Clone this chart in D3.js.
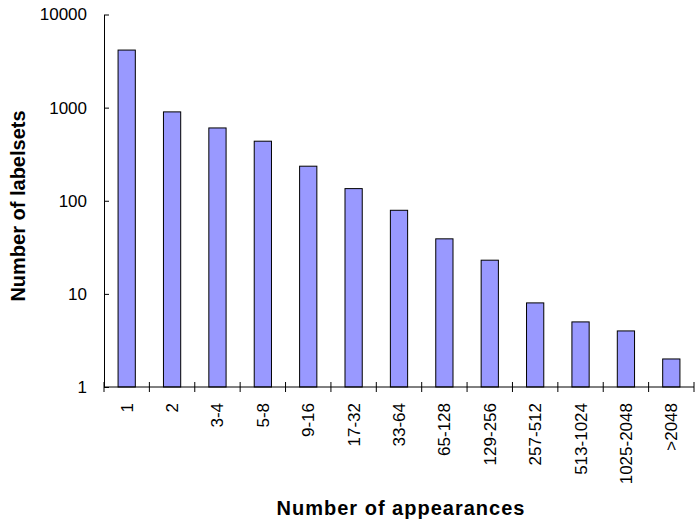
<!DOCTYPE html>
<html>
<head>
<meta charset="utf-8">
<script src="https://cdn.jsdelivr.net/npm/d3@7"></script>
<style>
  body { margin: 0; background: #fff; }
  svg { display: block; font-family: "Liberation Sans", Arial, sans-serif; }
</style>
</head>
<body>
<div id="vis"></div>
<script>
// Chart data
const CATEGORIES = ["1", "2", "3-4", "5-8", "9-16", "17-32", "33-64", "65-128",
                    "129-256", "257-512", "513-1024", "1025-2048", ">2048"];
const LABELSETS = [4150, 900, 605, 436, 235, 135, 79, 39, 23, 8, 5, 4, 2];
const Y_TICKS = [1, 10, 100, 1000, 10000];

// Frame dimensions
const FRAME_WIDTH = 699;
const FRAME_HEIGHT = 522;
const MARGINS = {left: 104, right: 5, top: 14.5, bottom: 135};
const VIS_WIDTH = FRAME_WIDTH - MARGINS.left - MARGINS.right;
const VIS_HEIGHT = FRAME_HEIGHT - MARGINS.top - MARGINS.bottom;

const FRAME = d3.select("#vis")
  .append("svg")
    .attr("width", FRAME_WIDTH)
    .attr("height", FRAME_HEIGHT);

const g = FRAME.append("g")
  .attr("transform", "translate(" + MARGINS.left + "," + MARGINS.top + ")");

// Scales
const X_SCALE = d3.scaleBand()
  .domain(CATEGORIES)
  .range([0, VIS_WIDTH])
  .paddingInner(0.62)
  .paddingOuter(0.31);

const Y_SCALE = d3.scaleLog()
  .domain([1, 10000])
  .range([VIS_HEIGHT, 0]);

// Bars
g.selectAll(".bar")
  .data(LABELSETS)
  .enter()
  .append("rect")
    .attr("class", "bar")
    .attr("x", (d, i) => X_SCALE(CATEGORIES[i]))
    .attr("y", (d) => Y_SCALE(d))
    .attr("width", X_SCALE.bandwidth())
    .attr("height", (d) => VIS_HEIGHT - Y_SCALE(d))
    .attr("fill", "#9999ff")
    .attr("stroke", "#000")
    .attr("stroke-width", 1);

// Y axis
const yAxis = g.append("g")
  .call(d3.axisLeft(Y_SCALE).tickValues(Y_TICKS).tickFormat(d3.format("d"))
          .tickSizeInner(5).tickSizeOuter(0).tickPadding(12));
yAxis.selectAll(".tick line").attr("x2", 5);
yAxis.selectAll("text").attr("font-size", "17px").attr("fill", "#000");
yAxis.select(".domain").attr("stroke", "#000");

// X axis: ticks at category boundaries
const xAxis = g.append("g")
  .attr("transform", "translate(0," + VIS_HEIGHT + ")");
xAxis.append("line")
  .attr("x1", 0).attr("x2", VIS_WIDTH)
  .attr("stroke", "#000");
xAxis.selectAll(".xtick")
  .data(d3.range(CATEGORIES.length + 1))
  .enter()
  .append("line")
    .attr("x1", (i) => i * X_SCALE.step())
    .attr("x2", (i) => i * X_SCALE.step())
    .attr("y1", -5).attr("y2", 5)
    .attr("stroke", "#000");
xAxis.selectAll(".xlabel")
  .data(CATEGORIES)
  .enter()
  .append("text")
    .attr("transform", (d) => "translate(" + (X_SCALE(d) + X_SCALE.bandwidth() / 2 + 6) + ",16)rotate(-90)")
    .attr("text-anchor", "end")
    .attr("font-size", "17px")
    .text((d) => d);

// Axis titles
FRAME.append("text")
  .attr("x", 401)
  .attr("y", 515)
  .attr("text-anchor", "middle")
  .attr("font-size", "20px")
  .attr("letter-spacing", "1px")
  .attr("font-weight", "bold")
  .text("Number of appearances");

FRAME.append("text")
  .attr("transform", "translate(25,206)rotate(-90)")
  .attr("text-anchor", "middle")
  .attr("font-size", "20px")
  .attr("font-weight", "bold")
  .text("Number of labelsets");
</script>
</body>
</html>
